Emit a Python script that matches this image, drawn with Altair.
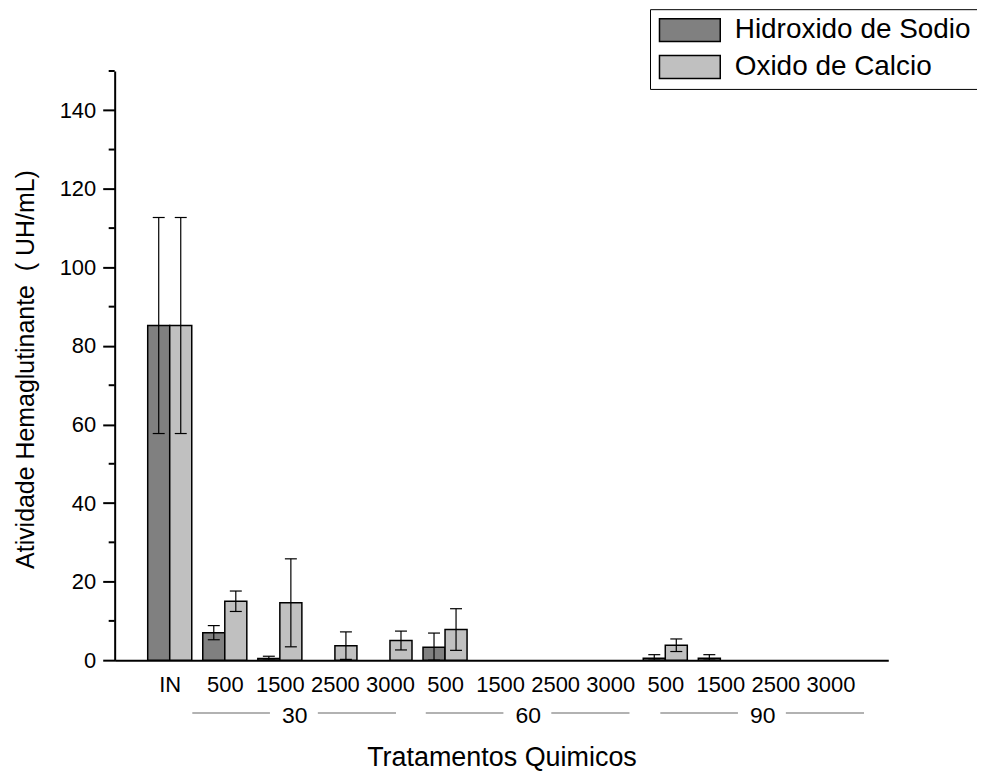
import altair as alt
import pandas as pd

# ---- data ----
cat_labels = ["IN", "500", "1500", "2500", "3000",
              "500", "1500", "2500", "3000",
              "500", "1500", "2500", "3000"]
series_names = ["Hidroxido de Sodio", "Oxido de Calcio"]
series_colors = ["#808080", "#c0c0c0"]

sodio_mean = [85.2, 7.0, 0.4, 0, 0, 3.3, 0, 0, 0, 0.5, 0.5, 0, 0]
sodio_err = [27.5, 1.8, 0.6, 0, 0, 3.6, 0, 0, 0, 0.9, 0.9, 0, 0]
calcio_mean = [85.2, 15.0, 14.6, 3.7, 5.0, 7.8, 0, 0, 0, 3.8, 0, 0, 0]
calcio_err = [27.5, 2.6, 11.2, 3.5, 2.4, 5.3, 0, 0, 0, 1.6, 0, 0, 0]

group_names = ["30", "60", "90"]
group_centers = [2.27, 6.51, 10.77]

major_ticks = [0, 20, 40, 60, 80, 100, 120, 140]
minor_ticks = [10, 30, 50, 70, 90, 110, 130, 150]

FONT = "Liberation Sans"
BAR_W = 0.4
W, H = 776, 591

rows = []
for i in range(len(cat_labels)):
    for s_i, (name, means, errs) in enumerate(
        [(series_names[0], sodio_mean, sodio_err),
         (series_names[1], calcio_mean, calcio_err)]):
        m, e = means[i], errs[i]
        x0 = i - BAR_W if s_i == 0 else i
        x1 = i if s_i == 0 else i + BAR_W
        rows.append(dict(idx=i, series=name, mean=m, err=e, x0=x0, x1=x1,
                         xc=(x0 + x1) / 2, lo=max(m - e, 0), hi=m + e, zero=0))
df = pd.DataFrame(rows)
bars_df = df[df["mean"] > 0]
err_df = df[df["err"] > 0]

seg_rows = []
for c in group_centers:
    seg_rows.append(dict(s=c - 1.86, e=c - 0.45))
    seg_rows.append(dict(s=c + 0.42, e=c + 1.84))
seg_df = pd.DataFrame(seg_rows)
grp_df = pd.DataFrame(dict(name=group_names, pos=group_centers))
minor_df = pd.DataFrame(dict(v=minor_ticks))

x_scale = alt.Scale(domain=[-1, 13.05], nice=False, zero=False)
y_scale = alt.Scale(domain=[0, 150], nice=False)

label_js = "[" + ",".join("'%s'" % l for l in cat_labels) + "]"

x_axis = alt.Axis(values=list(range(len(cat_labels))),
                  labelExpr=label_js + "[datum.value]",
                  ticks=False, tickSize=0, grid=False,
                  domainColor="black", domainWidth=2,
                  labelFontSize=22, labelPadding=14, labelFont=FONT,
                  labelColor="black", labelFlush=False, labelOverlap=False,
                  title="Tratamentos Quimicos", titleFontSize=27,
                  titleFont=FONT, titleFontWeight="normal", titleColor="black",
                  titleX=W / 2, titleY=106, titleAlign="center",
                  titleBaseline="alphabetic")

y_axis = alt.Axis(values=major_ticks, tickSize=12, tickWidth=2,
                  tickColor="black", domainColor="black", domainWidth=2,
                  grid=False, labelFontSize=22, labelPadding=7,
                  labelFont=FONT, labelColor="black",
                  title="Atividade Hemaglutinante \u00a0( UH/mL)",
                  titleFontSize=25, titleFont=FONT, titleFontWeight="normal",
                  titleColor="black", titleX=-89, titleY=299,
                  titleAlign="center", titleBaseline="middle", titleAngle=270)

legend = alt.Legend(title=None, orient="none", legendX=537, legendY=-62,
                    direction="vertical",
                    symbolType="M-1,-1L4.3,-1L4.3,1L-1,1Z", symbolSize=529,
                    symbolStrokeColor="black", symbolStrokeWidth=1.5,
                    symbolOpacity=1,
                    labelFontSize=28, labelFont=FONT, labelColor="black",
                    labelOffset=50, labelLimit=400,
                    padding=7, rowPadding=7,
                    strokeColor="black", fillColor="white")

bars = alt.Chart(bars_df).mark_rect(stroke="black", strokeWidth=1.5).encode(
    x=alt.X("x0:Q", scale=x_scale, axis=x_axis),
    x2="x1:Q",
    y=alt.Y("mean:Q", scale=y_scale, axis=y_axis),
    y2="zero:Q",
    color=alt.Color("series:N",
                    scale=alt.Scale(domain=series_names, range=series_colors),
                    legend=legend),
)

err_rule = alt.Chart(err_df).mark_rule(color="black", strokeWidth=1.2).encode(
    x=alt.X("xc:Q", scale=x_scale, axis=x_axis),
    y=alt.Y("lo:Q", scale=y_scale, axis=y_axis), y2="hi:Q")
cap_hi = alt.Chart(err_df).mark_tick(orient="horizontal", size=12,
                                     thickness=1.2, color="black", opacity=1).encode(
    x=alt.X("xc:Q", scale=x_scale, axis=x_axis),
    y=alt.Y("hi:Q", scale=y_scale, axis=y_axis))
cap_lo = alt.Chart(err_df).mark_tick(orient="horizontal", size=12,
                                     thickness=1.2, color="black", opacity=1).encode(
    x=alt.X("xc:Q", scale=x_scale, axis=x_axis),
    y=alt.Y("lo:Q", scale=y_scale, axis=y_axis))

minor = alt.Chart(minor_df).mark_rule(color="black", strokeWidth=2).encode(
    y=alt.Y("v:Q", scale=y_scale, axis=y_axis), x=alt.value(-6), x2=alt.value(0))

segs = alt.Chart(seg_df).mark_rule(color="#666666", strokeWidth=1.2).encode(
    x=alt.X("s:Q", scale=x_scale, axis=x_axis), x2="e:Q", y=alt.value(644))
grp_text = alt.Chart(grp_df).mark_text(fontSize=23, font=FONT, color="black",
                                       baseline="middle", align="center").encode(
    x=alt.X("pos:Q", scale=x_scale, axis=x_axis), y=alt.value(647), text="name:N")

chart = alt.layer(bars, err_rule, cap_hi, cap_lo, minor, segs, grp_text).properties(
    width=W, height=H,
    background="white",
    autosize=alt.AutoSizeParams(type="none"),
    padding={"left": 107, "top": 62, "right": 972 - 107 - W, "bottom": 766 - 62 - H},
).configure_view(stroke="transparent", strokeWidth=0).configure_axis(
    domainColor="black", domainWidth=2, tickColor="black", tickWidth=2,
    labelColor="black", titleColor="black"
)

chart.save("out.html", embed_options={"renderer": "svg", "actions": False})
